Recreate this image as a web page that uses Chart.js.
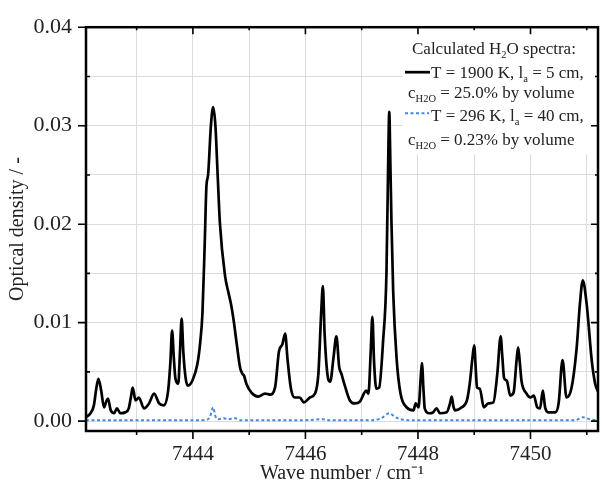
<!DOCTYPE html>
<html>
<head>
<meta charset="utf-8">
<script src="https://cdn.jsdelivr.net/npm/chart.js@4.4.1/dist/chart.umd.min.js"></script>
<style>
  body { margin: 0; background: #fff; }
</style>
</head>
<body>
<canvas id="myChart" width="604" height="486"></canvas>
<script>
// T = 1900 K, la = 5 cm, 25 % H2O
const hotX = [7442.10, 7442.18, 7442.24, 7442.28, 7442.32, 7442.37, 7442.42, 7442.46, 7442.49, 7442.54,
  7442.60, 7442.65, 7442.71, 7442.80, 7442.86, 7442.90, 7442.93, 7442.98, 7443.04, 7443.13,
  7443.22, 7443.31, 7443.40, 7443.48, 7443.56, 7443.60, 7443.63, 7443.66, 7443.69, 7443.74,
  7443.77, 7443.80, 7443.83, 7443.87, 7443.91, 7443.99, 7444.08, 7444.13, 7444.17, 7444.21,
  7444.24, 7444.27, 7444.32, 7444.36, 7444.40, 7444.44, 7444.48, 7444.57, 7444.63, 7444.68,
  7444.72, 7444.78, 7444.84, 7444.88, 7444.91, 7444.95, 7445.04, 7445.16, 7445.28, 7445.37,
  7445.46, 7445.53, 7445.59, 7445.64, 7445.68, 7445.74, 7445.81, 7445.90, 7445.97, 7446.08,
  7446.17, 7446.23, 7446.28, 7446.31, 7446.34, 7446.39, 7446.44, 7446.50, 7446.55, 7446.60,
  7446.64, 7446.70, 7446.79, 7446.88, 7446.97, 7447.08, 7447.12, 7447.16, 7447.19, 7447.22,
  7447.26, 7447.31, 7447.38, 7447.44, 7447.47, 7447.49, 7447.51, 7447.53, 7447.56, 7447.62,
  7447.69, 7447.80, 7447.92, 7447.96, 7448.01, 7448.05, 7448.07, 7448.10, 7448.12, 7448.20,
  7448.27, 7448.33, 7448.39, 7448.51, 7448.57, 7448.60, 7448.63, 7448.66, 7448.78, 7448.87,
  7448.92, 7448.97, 7449.00, 7449.03, 7449.05, 7449.10, 7449.17, 7449.25, 7449.34, 7449.41,
  7449.47, 7449.50, 7449.53, 7449.58, 7449.64, 7449.70, 7449.75, 7449.78, 7449.81, 7449.84,
  7449.93, 7450.00, 7450.06, 7450.12, 7450.17, 7450.22, 7450.26, 7450.32, 7450.44, 7450.50,
  7450.57, 7450.64, 7450.73, 7450.82, 7450.88, 7450.93, 7451.00, 7451.09, 7451.15, 7451.20];
const hotY = [0.0004, 0.0008, 0.0016, 0.0032, 0.0043, 0.0031, 0.0014, 0.0020, 0.0023, 0.0011,
  0.0008, 0.0013, 0.0008, 0.0009, 0.0013, 0.0025, 0.0034, 0.0021, 0.0024, 0.0013,
  0.0018, 0.0028, 0.0018, 0.0016, 0.0031, 0.0060, 0.0092, 0.0065, 0.0043, 0.0038,
  0.0070, 0.0104, 0.0070, 0.0044, 0.0036, 0.0041, 0.0058, 0.0080, 0.0110, 0.0180,
  0.0238, 0.0250, 0.0300, 0.0319, 0.0300, 0.0250, 0.0201, 0.0148, 0.0131, 0.0118,
  0.0104, 0.0078, 0.0054, 0.0048, 0.0046, 0.0038, 0.0029, 0.0025, 0.0028, 0.0027,
  0.0034, 0.0071, 0.0078, 0.0089, 0.0064, 0.0034, 0.0024, 0.0024, 0.0019, 0.0024,
  0.0028, 0.0048, 0.0110, 0.0137, 0.0090, 0.0048, 0.0040, 0.0065, 0.0086, 0.0055,
  0.0048, 0.0036, 0.0021, 0.0018, 0.0020, 0.0031, 0.0028, 0.0070, 0.0106, 0.0060,
  0.0033, 0.0034, 0.0081, 0.0150, 0.0260, 0.0314, 0.0260, 0.0200, 0.0131, 0.0064,
  0.0028, 0.0014, 0.0011, 0.0018, 0.0014, 0.0045, 0.0059, 0.0030, 0.0013, 0.0008,
  0.0009, 0.0013, 0.0008, 0.0009, 0.0018, 0.0025, 0.0015, 0.0011, 0.0014, 0.0021,
  0.0038, 0.0065, 0.0077, 0.0050, 0.0034, 0.0033, 0.0014, 0.0018, 0.0019, 0.0048,
  0.0086, 0.0065, 0.0044, 0.0041, 0.0026, 0.0029, 0.0060, 0.0075, 0.0060, 0.0041,
  0.0028, 0.0024, 0.0026, 0.0014, 0.0013, 0.0031, 0.0014, 0.0009, 0.0009, 0.0018,
  0.0062, 0.0024, 0.0034, 0.0074, 0.0120, 0.0143, 0.0118, 0.0061, 0.0038, 0.0030];

// T = 296 K, la = 40 cm, 0.23 % H2O
const coldX = [7442.10, 7444.20, 7444.30, 7444.36, 7444.40, 7444.45, 7444.55, 7444.62, 7444.75, 7444.85,
  7446.00, 7446.30, 7446.40, 7447.20, 7447.35, 7447.49, 7447.60, 7447.70, 7447.80, 7450.80,
  7450.93, 7451.05, 7451.20];
const coldY = [0.0001, 0.0001, 0.0004, 0.0014, 0.0005, 0.0002, 0.0003, 0.0002, 0.0003, 0.0001,
  0.0001, 0.0002, 0.0001, 0.0001, 0.0003, 0.0008, 0.0004, 0.0002, 0.0001, 0.0001,
  0.0004, 0.0002, 0.0001];

const xTicks = [7443, 7444, 7445, 7446, 7447, 7448, 7449, 7450, 7451];
const xLabels = [7444, 7446, 7448, 7450];
const yTicks = [0, 0.005, 0.01, 0.015, 0.02, 0.025, 0.03, 0.035, 0.04];
const yLabels = [0, 0.01, 0.02, 0.03, 0.04];

const serif = "'Liberation Serif', 'Times New Roman', serif";
const isIn = (list, v) => list.some(l => Math.abs(l - v) < 1e-9);

function toPoints(xs, ys) {
  return xs.map((x, i) => ({ x: x, y: ys[i] }));
}

// text with subscripts: parts = [[text, isSub], ...]
function drawRich(ctx, parts, x, y, size) {
  parts.forEach(p => {
    const sub = p[1];
    ctx.font = (sub ? size * 0.62 : size) + 'px ' + serif;
    ctx.fillText(p[0], x, y + (sub ? size * 0.24 : 0));
    x += ctx.measureText(p[0]).width;
  });
}

const legendBox = {
  id: 'legendBox',
  afterDatasetsDraw(chart) {
    const { ctx, chartArea: a } = chart;
    const hot = chart.data.datasets[0];
    const cold = chart.data.datasets[1];
    const left = a.right - 195;
    ctx.save();
    ctx.fillStyle = '#fff';
    ctx.fillRect(left, a.top, 195, 127);
    ctx.fillStyle = '#222';
    ctx.textBaseline = 'alphabetic';
    const fs = 17;
    drawRich(ctx, [['Calculated H', false], ['2', true], ['O spectra:', false]], left + 9, a.top + 27, fs);

    ctx.strokeStyle = hot.borderColor;
    ctx.lineWidth = hot.borderWidth;
    ctx.beginPath();
    ctx.moveTo(left + 2, a.top + 45);
    ctx.lineTo(left + 27, a.top + 45);
    ctx.stroke();
    drawRich(ctx, [['T = 1900 K, l', false], ['a', true], [' = 5 cm,', false]], left + 28, a.top + 51, fs);
    drawRich(ctx, [['c', false], ['H2O', true], [' = 25.0% by volume', false]], left + 5, a.top + 71, fs);

    ctx.strokeStyle = cold.borderColor;
    ctx.lineWidth = cold.borderWidth;
    ctx.setLineDash(cold.borderDash);
    ctx.beginPath();
    ctx.moveTo(left + 2, a.top + 86);
    ctx.lineTo(left + 26, a.top + 86);
    ctx.stroke();
    ctx.setLineDash([]);
    drawRich(ctx, [['T = 296 K, l', false], ['a', true], [' = 40 cm,', false]], left + 28, a.top + 94, fs);
    drawRich(ctx, [['c', false], ['H2O', true], [' = 0.23% by volume', false]], left + 5, a.top + 118, fs);
    ctx.restore();
  }
};

const frame = {
  id: 'frame',
  afterDraw(chart) {
    const { ctx, chartArea: a, scales: { x, y } } = chart;
    ctx.save();
    ctx.strokeStyle = '#000';
    ctx.lineWidth = 1.6;
    ctx.beginPath();
    xTicks.forEach(v => {
      const px = x.getPixelForValue(v);
      const major = isIn(xLabels, v);
      ctx.moveTo(px, a.bottom);
      ctx.lineTo(px, a.bottom + (major ? 8 : 4));
      ctx.moveTo(px, a.top);
      ctx.lineTo(px, a.top + (major ? 7 : 3));
    });
    yTicks.forEach(v => {
      const py = y.getPixelForValue(v);
      const major = isIn(yLabels, v);
      ctx.moveTo(a.left, py);
      ctx.lineTo(major ? a.left - 8 : a.left + 4, py);
      ctx.moveTo(a.right, py);
      ctx.lineTo(a.right - (major ? 7 : 3), py);
    });
    ctx.stroke();
    ctx.lineWidth = 2.5;
    ctx.strokeRect(a.left, a.top, a.right - a.left, a.bottom - a.top);
    ctx.restore();
  }
};

const ctx = document.getElementById('myChart').getContext('2d');

new Chart(ctx, {
  type: 'line',
  data: {
    datasets: [{
      label: 'T = 1900 K',
      data: toPoints(hotX, hotY),
      borderColor: '#000',
      borderWidth: 2.7,
      pointRadius: 0,
      cubicInterpolationMode: 'monotone',
      fill: false
    }, {
      label: 'T = 296 K',
      data: toPoints(coldX, coldY),
      borderColor: 'rgb(70, 135, 225)',
      borderWidth: 2,
      borderDash: [3, 2.5],
      pointRadius: 0,
      cubicInterpolationMode: 'monotone',
      fill: false
    }]
  },
  options: {
    responsive: false,
    animation: false,
    layout: { padding: { top: 22, right: 6, left: 0, bottom: 0 } },
    plugins: {
      legend: { display: false },
      tooltip: { enabled: false }
    },
    scales: {
      x: {
        type: 'linear',
        min: 7442.1,
        max: 7451.2,
        afterBuildTicks: s => { s.ticks = xTicks.map(v => ({ value: v })); },
        afterFit: s => { s.height = 55; },
        grid: { color: '#dcdcdc', lineWidth: 1, drawTicks: false },
        border: { display: false },
        ticks: {
          autoSkip: false,
          maxRotation: 0,
          padding: 11,
          color: '#222',
          font: { family: serif, size: 21 },
          callback: v => isIn(xLabels, v) ? String(v) : ''
        },
        title: {
          display: true,
          text: 'Wave number / cm\u207B\u00B9',
          color: '#222',
          font: { family: serif, size: 20 },
          padding: { top: 0, bottom: 0 }
        }
      },
      y: {
        type: 'linear',
        min: -0.001,
        max: 0.04,
        afterBuildTicks: s => { s.ticks = yTicks.map(v => ({ value: v })); },
        afterFit: s => { s.width = 86; },
        grid: { color: '#dcdcdc', lineWidth: 1, drawTicks: false },
        border: { display: false },
        ticks: {
          padding: 14,
          color: '#222',
          font: { family: serif, size: 22 },
          callback: v => isIn(yLabels, v) ? v.toFixed(2) : ''
        },
        title: {
          display: true,
          text: 'Optical density / -',
          color: '#222',
          font: { family: serif, size: 20 },
          padding: { top: 6, bottom: 0 }
        }
      }
    }
  },
  plugins: [legendBox, frame]
});
</script>
</body>
</html>
